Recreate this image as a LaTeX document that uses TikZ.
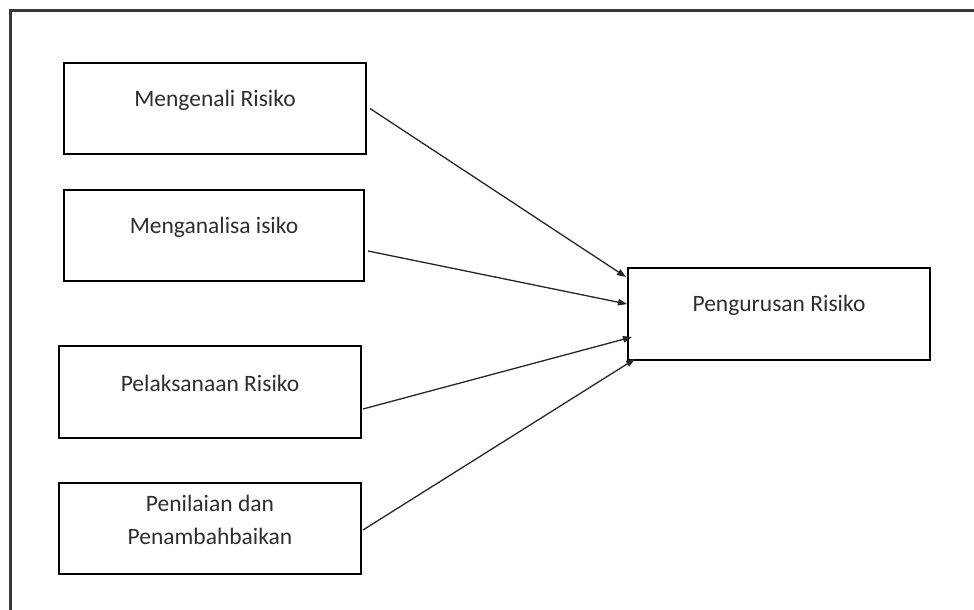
\documentclass[tikz,border=0pt]{standalone}
\usepackage{fontspec}
\setmainfont{Carlito}
\usetikzlibrary{arrows.meta}
\begin{document}
\begin{tikzpicture}[x=1pt,y=-1pt,
  box/.style={draw=black, line width=2pt, inner sep=0pt, outer sep=0pt, minimum width=302pt, minimum height=91pt},
  txt/.style={font=\fontsize{23.5}{33.5}\selectfont, text=black!82, align=center},
  conn/.style={line width=1.3pt, draw=black!85, -{Triangle[length=9pt,width=6.5pt]}}]
\useasboundingbox (0,0) rectangle (974,610);
\draw[line width=3.5pt, black!78] (10.3,700) -- (10.3,10.5) -- (1000,10.5);
\node[box, label={[txt,yshift=8pt]center:Mengenali Risiko}] (r1) at (215,108.5) {};
\node[box, minimum width=300pt, label={[txt,yshift=8pt]center:Menganalisa isiko}] (r2) at (214,235.5) {};
\node[box, minimum height=92pt, label={[txt,yshift=9pt]center:Pelaksanaan Risiko}] (r3) at (210,392) {};
\node[box, label={[txt,yshift=8.5pt]center:Penilaian dan\\Penambahbaikan}] (r4) at (210,528.5) {};
\node[box, minimum height=92pt, label={[txt,yshift=9pt]center:Pengurusan Risiko}] (p) at (779,314) {};
\draw[conn] ([xshift=4pt]r1.east) -- ([xshift=-2pt,yshift=37pt]p.west);
\draw[conn] ([xshift=4pt,yshift=-15.5pt]r2.east) -- ([xshift=-1pt,yshift=10pt]p.west);
\draw[conn] ([xshift=2pt,yshift=-17pt]r3.east) -- ([xshift=4pt,yshift=-23pt]p.west);
\draw[conn] ([xshift=2pt,yshift=-1.5pt]r4.east) -- ([xshift=7pt,yshift=1pt]p.south west);
\end{tikzpicture}
\end{document}
